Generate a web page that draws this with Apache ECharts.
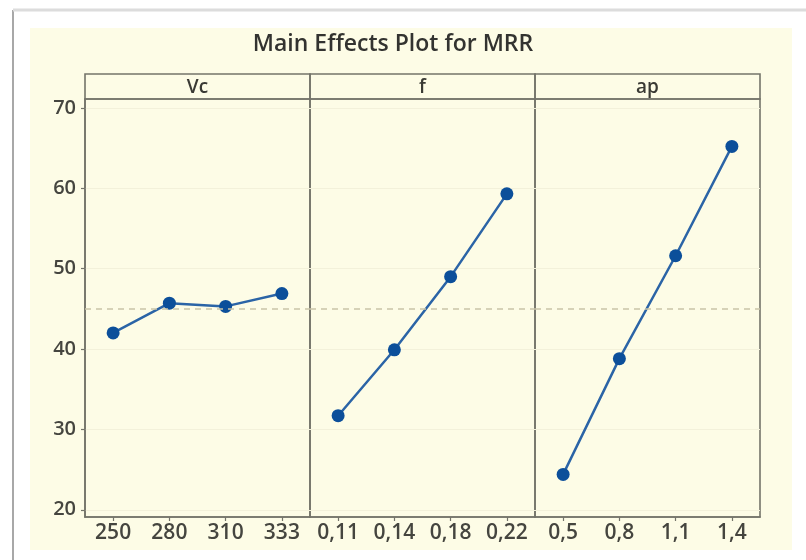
<!DOCTYPE html>
<html>
<head>
<meta charset="utf-8">
<title>Main Effects Plot for MRR</title>
<script src="https://cdn.jsdelivr.net/npm/echarts@6/dist/echarts.min.js"></script>
<style>
  html, body { margin: 0; padding: 0; background: #ffffff; }
  #chart { width: 806px; height: 560px; }
</style>
</head>
<body>
<div id="chart"></div>
<script>
// Factor names shown in the panel headers
const factors = ['Vc', 'f', 'ap'];

// Factor levels (x tick labels for each panel)
const levelsVc = ['250', '280', '310', '333'];
const levelsF = ['0,11', '0,14', '0,18', '0,22'];
const levelsAp = ['0,5', '0,8', '1,1', '1,4'];

// Mean MRR at each level
const meanVc = [42.0, 45.7, 45.3, 46.9];
const meanF = [31.7, 39.9, 49.0, 59.3];
const meanAp = [24.4, 38.8, 51.6, 65.2];

// Y tick labels
const yTicks = [20, 30, 40, 50, 60, 70];

const levels = [levelsVc, levelsF, levelsAp];
const means = [meanVc, meanF, meanAp];

// Grand mean of all responses: the dashed reference line
const allValues = [].concat(meanVc, meanF, meanAp);
const grandMean = allValues.reduce((a, b) => a + b, 0) / allValues.length;

// Panel geometry
const plotLeft = 85;
const panelWidth = 225;
const plotTop = 99;
const plotHeight = 418;
const stripHeight = 25;
const frameColor = '#74746a';
const textColor = '#45453f';
const fontFamily = '"Open Sans", "Noto Sans", sans-serif';

const grids = [], xAxes = [], yAxes = [], series = [], graphics = [];

// page backdrop: cream panel with a thin frame
graphics.push(
  { type: 'rect', shape: { x: 30, y: 28, width: 762, height: 522 },
    style: { fill: '#fdfce6' }, silent: true, z: -10 },
  { type: 'line', shape: { x1: 13, y1: 10, x2: 13, y2: 560 },
    style: { stroke: '#a8a8a8', lineWidth: 2 }, silent: true, z: -5 },
  { type: 'line', shape: { x1: 13, y1: 10, x2: 806, y2: 10 },
    style: { stroke: '#dcdcdc', lineWidth: 3 }, silent: true, z: -5 }
);

factors.forEach((name, i) => {
  const left = plotLeft + i * panelWidth;
  grids.push({
    left: left, top: plotTop, width: panelWidth, height: plotHeight,
    show: true, borderColor: frameColor, borderWidth: 1.6,
    backgroundColor: 'transparent'
  });
  xAxes.push({
    type: 'category', gridIndex: i, data: levels[i], boundaryGap: true,
    axisLine: { show: true, lineStyle: { color: frameColor, width: 1.6 } },
    axisTick: { show: true, alignWithLabel: true, length: 4,
      lineStyle: { color: frameColor, width: 1.2 } },
    axisLabel: { color: textColor, fontSize: 21, fontWeight: 600,
      fontFamily: fontFamily, margin: 6 },
    splitLine: { show: false }
  });
  yAxes.push({
    type: 'value', gridIndex: i, min: 19.1, max: 71.1,
    axisLine: { show: i === 0, lineStyle: { color: frameColor, width: 1.6 } },
    axisTick: { show: i === 0, length: 4, customValues: yTicks,
      lineStyle: { color: frameColor, width: 1.2 } },
    axisLabel: { show: i === 0, customValues: yTicks, color: textColor,
      fontSize: 20, fontWeight: 600, fontFamily: fontFamily, margin: 9 },
    splitLine: { show: true, lineStyle: { color: '#f3f1da', width: 1 } }
  });
  series.push({
    type: 'line', xAxisIndex: i, yAxisIndex: i, data: means[i],
    symbol: 'circle', symbolSize: 13,
    lineStyle: { color: '#2b64a6', width: 2.5 },
    itemStyle: { color: '#0c4f9a' },
    markLine: {
      silent: true, symbol: 'none', animation: false,
      label: { show: false },
      lineStyle: { color: '#c9c3a8', width: 1.5, type: [6, 5] },
      data: [{ yAxis: grandMean }]
    },
    animation: false
  });
  // header strip for this panel
  graphics.push(
    { type: 'rect', shape: { x: left, y: plotTop - stripHeight, width: panelWidth, height: stripHeight },
      style: { fill: 'transparent', stroke: frameColor, lineWidth: 1.6 }, silent: true },
    { type: 'text', x: left + panelWidth / 2, y: plotTop - stripHeight / 2 + 1,
      style: { text: name, fill: '#3a3a34', fontSize: 19, fontWeight: 600,
        fontFamily: fontFamily, align: 'center', verticalAlign: 'middle' }, silent: true }
  );
});

const chart = echarts.init(document.getElementById('chart'), null, { renderer: 'canvas' });
chart.setOption({
  backgroundColor: '#ffffff',
  animation: false,
  title: {
    text: 'Main Effects Plot for MRR',
    left: 388, top: 28, textAlign: 'center',
    textStyle: { color: '#333330', fontSize: 23, fontWeight: 600, fontFamily: fontFamily }
  },
  grid: grids,
  xAxis: xAxes,
  yAxis: yAxes,
  series: series,
  graphic: graphics
});
</script>
</body>
</html>
